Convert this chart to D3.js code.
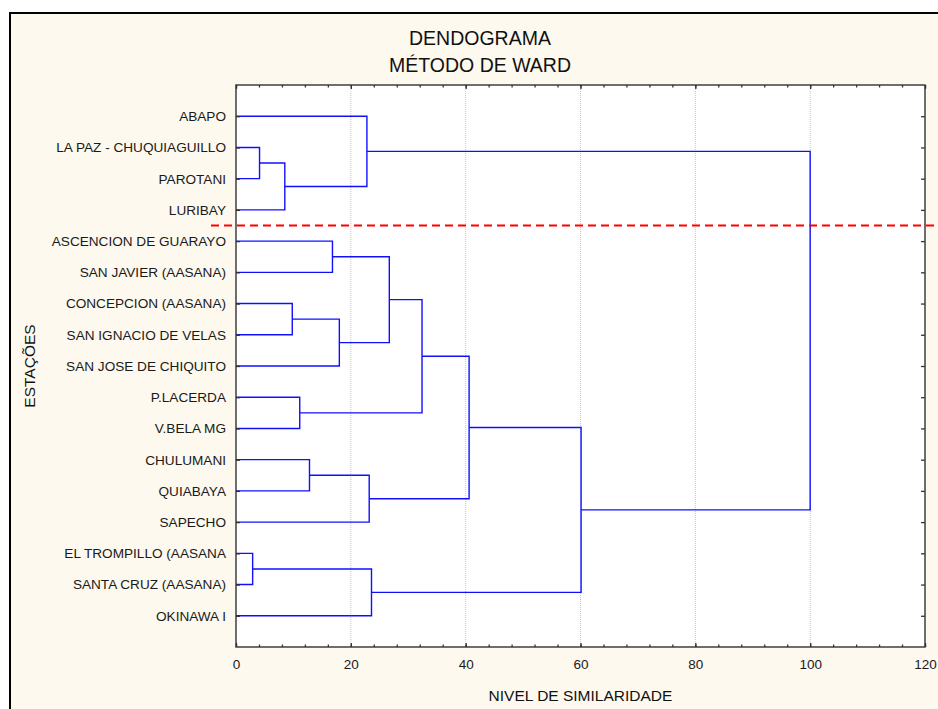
<!DOCTYPE html>
<html>
<head>
<meta charset="utf-8">
<script src="https://cdn.jsdelivr.net/npm/d3@7"></script>
<style>
  html, body { margin: 0; padding: 0; background: #ffffff; }
  svg { display: block; font-family: "Liberation Sans", Arial, sans-serif; }
</style>
</head>
<body>
<svg id="chart" width="938" height="709"></svg>
<script>
// Stations in dendrogram leaf order (top to bottom)
const stations = [
  "ABAPO",
  "LA PAZ - CHUQUIAGUILLO",
  "PAROTANI",
  "LURIBAY",
  "ASCENCION DE GUARAYO",
  "SAN JAVIER (AASANA)",
  "CONCEPCION (AASANA)",
  "SAN IGNACIO DE VELAS",
  "SAN JOSE DE CHIQUITO",
  "P.LACERDA",
  "V.BELA MG",
  "CHULUMANI",
  "QUIABAYA",
  "SAPECHO",
  "EL TROMPILLO (AASANA",
  "SANTA CRUZ (AASANA)",
  "OKINAWA I"
];

// Ward linkage steps: "#k" refers to the cluster formed at step k
const mergeLeft   = ["LA PAZ - CHUQUIAGUILLO", "#0", "ABAPO", "ASCENCION DE GUARAYO", "CONCEPCION (AASANA)", "#4", "#3", "P.LACERDA", "#6", "CHULUMANI", "#9", "#8", "EL TROMPILLO (AASANA", "#12", "#11", "#2"];
const mergeRight  = ["PAROTANI", "LURIBAY", "#1", "SAN JAVIER (AASANA)", "SAN IGNACIO DE VELAS", "SAN JOSE DE CHIQUITO", "#5", "V.BELA MG", "#7", "QUIABAYA", "SAPECHO", "#10", "SANTA CRUZ (AASANA)", "OKINAWA I", "#13", "#14"];
const mergeHeight = [4.1, 8.5, 22.8, 16.8, 9.8, 18.0, 26.7, 11.1, 32.4, 12.8, 23.2, 40.6, 2.9, 23.6, 60.1, 100];

// Axis ticks
const xMajorTicks = [0, 20, 40, 60, 80, 100, 120];
const xGridTicks = [20, 40, 60, 80, 100];
const xMinorTicks = d3.range(0, 121, 4);

// Cut level drawn between the 4th and 5th station
const cutPosition = [4.5];

const titleLines = ["DENDOGRAMA", "MÉTODO DE WARD"];
const xTitle = "NIVEL DE SIMILARIDADE";
const yTitle = "ESTAÇÕES";

const svg = d3.select("#chart");
const plot = { left: 236, right: 925, top: 85, bottom: 647 };

const x = d3.scaleLinear().domain([0, 120]).range([plot.left, plot.right]);
const y = d3.scaleLinear().domain([0, stations.length + 1]).range([plot.top, plot.bottom]);

// Panel background with frame
svg.append("rect")
  .attr("x", 10).attr("y", 13)
  .attr("width", 960).attr("height", 720)
  .attr("fill", "#fdf9ee")
  .attr("stroke", "#000").attr("stroke-width", 2);

// Title
svg.append("g").selectAll("text").data(titleLines).join("text")
  .attr("x", 480)
  .attr("y", (d, i) => 45 + i * 26.5)
  .attr("text-anchor", "middle")
  .attr("font-size", 19.5)
  .attr("fill", "#111")
  .text(d => d);

// Plot area
svg.append("rect")
  .attr("x", plot.left).attr("y", plot.top)
  .attr("width", plot.right - plot.left).attr("height", plot.bottom - plot.top)
  .attr("fill", "#fff");

// Vertical dotted gridlines
svg.append("g").selectAll("line").data(xGridTicks).join("line")
  .attr("x1", d => x(d)).attr("x2", d => x(d))
  .attr("y1", plot.top).attr("y2", plot.bottom)
  .attr("stroke", "#c4c4c4").attr("stroke-width", 1)
  .attr("stroke-dasharray", "1,1");

// Build the dendrogram node positions
const nodes = {};
stations.forEach((s, i) => { nodes[s] = { y: y(i + 1), h: 0 }; });
const links = [];
mergeHeight.forEach((h, k) => {
  const a = nodes[mergeLeft[k]], b = nodes[mergeRight[k]];
  const node = { y: (a.y + b.y) / 2, h: h };
  nodes["#" + k] = node;
  links.push({ a, b, h });
});

svg.append("g").selectAll("path").data(links).join("path")
  .attr("d", d => `M${x(d.a.h)},${d.a.y}H${x(d.h)}V${d.b.y}H${x(d.b.h)}`)
  .attr("fill", "none")
  .attr("stroke", "#1010ff")
  .attr("stroke-width", 1.4);

// Frame of the plot
const axisColor = "#333";
svg.append("rect")
  .attr("x", plot.left).attr("y", plot.top)
  .attr("width", plot.right - plot.left).attr("height", plot.bottom - plot.top)
  .attr("fill", "none").attr("stroke", axisColor).attr("stroke-width", 1.4);

// Bottom axis: labels and major ticks (inward)
const bottomAxis = svg.append("g")
  .attr("transform", `translate(0,${plot.bottom})`)
  .call(d3.axisBottom(x).tickValues(xMajorTicks).tickSize(-4).tickPadding(12).tickFormat(d3.format("d")));
bottomAxis.select(".domain").remove();
bottomAxis.selectAll(".tick line").attr("stroke", axisColor).attr("stroke-width", 1.3);
bottomAxis.selectAll(".tick text")
  .attr("font-size", 13.5).attr("fill", "#1a1a1a")
  .attr("font-family", "Liberation Sans, Arial, sans-serif");

// Minor ticks bottom and top
const minorBottom = svg.append("g")
  .attr("transform", `translate(0,${plot.bottom})`)
  .call(d3.axisBottom(x).tickValues(xMinorTicks).tickSize(-2.5).tickFormat(""));
minorBottom.select(".domain").remove();
minorBottom.selectAll(".tick line").attr("stroke", axisColor).attr("stroke-width", 1.3);

const majorTop = svg.append("g")
  .attr("transform", `translate(0,${plot.top})`)
  .call(d3.axisTop(x).tickValues(xMajorTicks).tickSize(-4).tickFormat(""));
majorTop.select(".domain").remove();
majorTop.selectAll(".tick line").attr("stroke", axisColor).attr("stroke-width", 1.3);

const minorTop = svg.append("g")
  .attr("transform", `translate(0,${plot.top})`)
  .call(d3.axisTop(x).tickValues(xMinorTicks).tickSize(-2.5).tickFormat(""));
minorTop.select(".domain").remove();
minorTop.selectAll(".tick line").attr("stroke", axisColor).attr("stroke-width", 1.3);

// Left axis with station names, ticks pointing into the plot
const yBand = d3.scalePoint().domain(stations).range([y(1), y(stations.length)]);
const leftAxis = svg.append("g")
  .attr("transform", `translate(${plot.left},0)`)
  .call(d3.axisLeft(yBand).tickSize(-4).tickPadding(10));
leftAxis.select(".domain").remove();
leftAxis.selectAll(".tick line").attr("stroke", axisColor).attr("stroke-width", 1.3);
leftAxis.selectAll(".tick text")
  .attr("font-size", 13.6).attr("fill", "#1a1a1a")
  .attr("font-family", "Liberation Sans, Arial, sans-serif");

// Right axis mirror ticks
const rightAxis = svg.append("g")
  .attr("transform", `translate(${plot.right},0)`)
  .call(d3.axisRight(yBand).tickSize(-4).tickFormat(""));
rightAxis.select(".domain").remove();
rightAxis.selectAll(".tick line").attr("stroke", axisColor).attr("stroke-width", 1.3);

// Cut line
svg.append("g").selectAll("line").data(cutPosition).join("line")
  .attr("x1", 211).attr("x2", 940)
  .attr("y1", d => y(d)).attr("y2", d => y(d))
  .attr("stroke", "#ff0000").attr("stroke-width", 2)
  .attr("stroke-dasharray", "8,5");

// Axis titles
svg.append("text")
  .attr("x", (plot.left + plot.right) / 2)
  .attr("y", 701)
  .attr("text-anchor", "middle")
  .attr("font-size", 15.5)
  .attr("fill", "#111")
  .text(xTitle);

svg.append("text")
  .attr("transform", `translate(35,${(plot.top + plot.bottom) / 2}) rotate(-90)`)
  .attr("text-anchor", "middle")
  .attr("font-size", 15.5)
  .attr("fill", "#111")
  .text(yTitle);
</script>
</body>
</html>
